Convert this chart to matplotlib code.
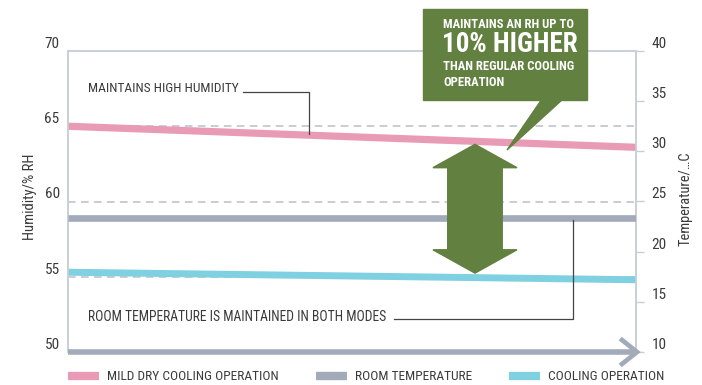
import matplotlib
matplotlib.use('Agg')
import matplotlib.pyplot as plt
from matplotlib import font_manager as fm
from matplotlib.patches import Polygon, Rectangle
from matplotlib.lines import Line2D

# series: humidity (left axis) and room temperature (right axis)
time = [0, 1]
mild_dry_rh = [65.0, 63.6]
cooling_rh = [55.3, 54.8]
room_temp = [23.4, 23.4]

series_names = ['MILD DRY COOLING OPERATION', 'ROOM TEMPERATURE', 'COOLING OPERATION']
rh_ticks = [50, 55, 60, 65, 70]
temp_ticks = [10, 15, 20, 25, 30, 35, 40]
rh_grid = [55, 60, 65]

PINK = '#e99bb6'
GREY = '#a3abbb'
CYAN = '#7fd0e1'
GREEN = '#62803f'
FRAME = '#c9ced8'
TXT = '#3a3a3a'

# narrowest face on hand
names = {f.name for f in fm.fontManager.ttflist}
FONT = 'DejaVu Sans'
for cand in ['Roboto Condensed', 'Liberation Sans Narrow', 'Open Sans Condensed', 'Roboto']:
    if cand in names:
        FONT = cand
        break
plt.rcParams['font.family'] = [FONT, 'DejaVu Sans']

W, H = 702, 385
fig = plt.figure(figsize=(W / 100, H / 100), dpi=100)
renderer = fig.canvas.get_renderer()


def px(x, y):
    return x / W, 1 - y / H


def fit(s, size_px, weight='normal'):
    # font size that makes s span size_px pixels
    t = fig.text(0, 0, s, fontsize=10, fontweight=weight)
    bb = t.get_window_extent(renderer)
    t.remove()
    return 10 * size_px / bb.width


ax = fig.add_axes([68 / W, 1 - 352 / H, (636 - 68) / W, (352 - 51) / H])
ax2 = ax.twinx()

ax.set_xlim(0, 1)
ax.set_ylim(50, 70)
ax2.set_ylim(10, 40)

for y in rh_grid:
    ax.axhline(y, color='#b9bfca', lw=1.1, dashes=(5, 3.5), zorder=1)

ax.plot(time, mild_dry_rh, color=PINK, lw=5.2, solid_capstyle='butt', zorder=3)
ax.plot(time, cooling_rh, color=CYAN, lw=5.0, solid_capstyle='butt', zorder=3)
ax2.plot(time, room_temp, color=GREY, lw=4.8, solid_capstyle='butt', zorder=3)

for a in (ax, ax2):
    for s in ('left', 'top', 'right'):
        a.spines[s].set_color(FRAME)
        a.spines[s].set_linewidth(1.2)
    a.spines['bottom'].set_visible(False)
    a.set_xticks([])

tick_fs = fit('70', 15)
ax.set_yticks(rh_ticks)
ax.tick_params(axis='y', length=0, pad=6, labelsize=tick_fs, labelcolor=TXT)
for lbl in ax.get_yticklabels():
    lbl.set_va('bottom')

ax2.set_yticks(temp_ticks)
ax2.tick_params(axis='y', length=6, width=1, color=FRAME, pad=5, labelsize=tick_fs, labelcolor=TXT)
for lbl in ax2.get_yticklabels():
    lbl.set_va('bottom')

# x axis drawn as a thick arrow
fig.add_artist(Line2D([px(68, 0)[0], px(636, 0)[0]], [px(0, 352)[1]] * 2,
                      color=GREY, lw=4, solid_capstyle='butt'))
cx, cy = zip(px(622, 340), px(637, 352), px(622, 364))
fig.add_artist(Line2D(cx, cy, color=GREY, lw=3.4, solid_joinstyle='miter'))

fig.text(*px(30, 197), 'Humidity/% RH', rotation=90, ha='center', va='center',
         fontsize=fit('Humidity/% RH', 86), color=TXT)
fig.text(*px(686, 199), 'Temperature/…C', rotation=90, ha='center', va='center',
         fontsize=fit('Temperature/…C', 94), color=TXT)

# double-headed arrow between the two humidity lines
xc = 0.7165
top = mild_dry_rh[0] + (mild_dry_rh[1] - mild_dry_rh[0]) * xc - 0.2
bot = cooling_rh[0] + (cooling_rh[1] - cooling_rh[0]) * xc + 0.3
hw, sw, hl = 0.074, 0.048, 1.55
arrow = Polygon([(xc, top), (xc + hw, top - hl), (xc + sw, top - hl),
                 (xc + sw, bot + hl), (xc + hw, bot + hl), (xc, bot),
                 (xc - hw, bot + hl), (xc - sw, bot + hl), (xc - sw, top - hl),
                 (xc - hw, top - hl)], closed=True, color=GREEN,
                transform=ax.transData, zorder=5)
ax2.add_patch(arrow)

# speech-bubble callout
bx0, by0 = px(423, 100)
bx1, by1 = px(587, 9)
fig.add_artist(Rectangle((bx0, by0), bx1 - bx0, by1 - by0, color=GREEN,
                         transform=fig.transFigure, zorder=6))
fig.add_artist(Polygon([px(542, 99), px(563, 99), px(507, 150)], closed=True,
                       color=GREEN, transform=fig.transFigure, zorder=6))
small_fs = fit('MAINTAINS AN RH UP TO', 131, 'bold')
fig.text(*px(443, 25), 'MAINTAINS AN RH UP TO', color='white', fontsize=small_fs,
         fontweight='bold', ha='left', va='center', zorder=7)
fig.text(*px(442, 45), '10% HIGHER', color='white', fontsize=fit('10% HIGHER', 135, 'bold'),
         fontweight='bold', ha='left', va='center', zorder=7)
fig.text(*px(443, 67), 'THAN REGULAR COOLING', color='white', fontsize=small_fs,
         fontweight='bold', ha='left', va='center', zorder=7)
fig.text(*px(443, 82), 'OPERATION', color='white', fontsize=small_fs,
         fontweight='bold', ha='left', va='center', zorder=7)

# leader notes
fig.text(*px(88, 89), 'MAINTAINS HIGH HUMIDITY', color=TXT, ha='left', va='center',
         fontsize=fit('MAINTAINS HIGH HUMIDITY', 151))
lx, ly = zip(px(243, 92), px(309, 92), px(309, 134))
fig.add_artist(Line2D(lx, ly, color='#444444', lw=0.9))

note = 'ROOM TEMPERATURE IS MAINTAINED IN BOTH MODES'
fig.text(*px(88, 317), note, color=TXT, ha='left', va='center', fontsize=fit(note, 300))
lx, ly = zip(px(394, 319), px(573, 319), px(573, 220))
fig.add_artist(Line2D(lx, ly, color='#444444', lw=0.9))

leg_fs = fit(series_names[0], 172)
em = leg_fs * 100 / 72
handles = [Line2D([], [], color=c, lw=6, solid_capstyle='butt') for c in (PINK, GREY, CYAN)]
fig.legend(handles, series_names, loc='center left', bbox_to_anchor=px(68, 377), ncol=3,
           frameon=False, fontsize=leg_fs, handlelength=31 / em, handletextpad=8 / em,
           columnspacing=37 / em, borderpad=0, borderaxespad=0, labelcolor=TXT)

fig.savefig('out.png', dpi=100)
